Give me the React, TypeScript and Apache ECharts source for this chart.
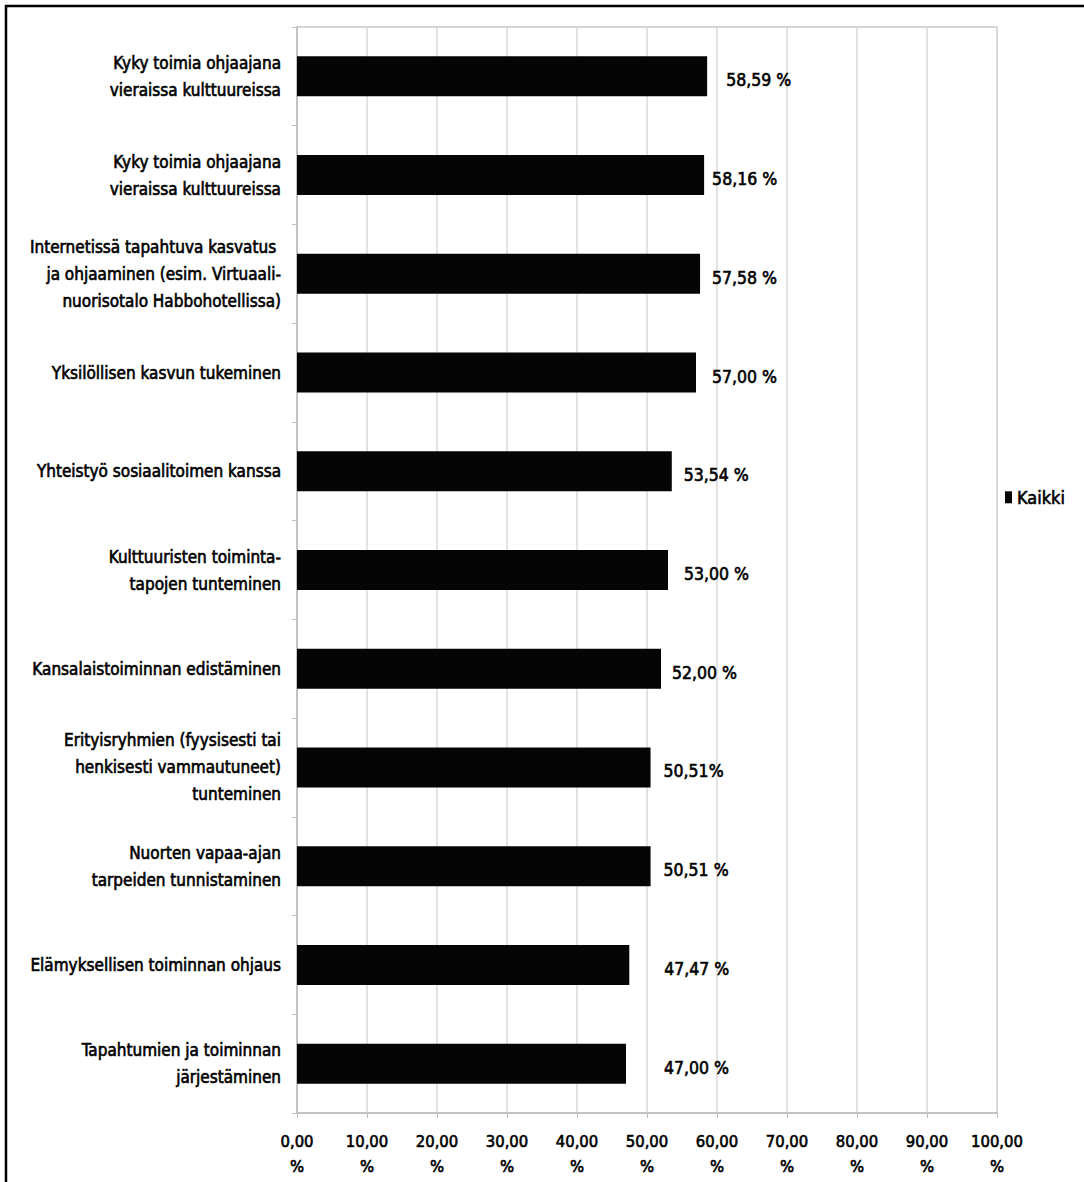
import React, { useEffect, useRef } from "react";
import * as echarts from "echarts";

const categories = [
  "Kyky toimia ohjaajana\nvieraissa kulttuureissa",
  "Kyky toimia ohjaajana\nvieraissa kulttuureissa",
  "Internetissä tapahtuva kasvatus \nja ohjaaminen (esim. Virtuaali-\nnuorisotalo Habbohotellissa)",
  "Yksilöllisen kasvun tukeminen",
  "Yhteistyö sosiaalitoimen kanssa",
  "Kulttuuristen toiminta-\ntapojen tunteminen",
  "Kansalaistoiminnan edistäminen",
  "Erityisryhmien (fyysisesti tai\nhenkisesti vammautuneet)\ntunteminen",
  "Nuorten vapaa-ajan\ntarpeiden tunnistaminen",
  "Elämyksellisen toiminnan ohjaus",
  "Tapahtumien ja toiminnan\njärjestäminen",
];

const values = [58.59, 58.16, 57.58, 57.0, 53.54, 53.0, 52.0, 50.51, 50.51, 47.47, 47.0];

const valueLabels = [
  "58,59 %",
  "58,16 %",
  "57,58 %",
  "57,00 %",
  "53,54 %",
  "53,00 %",
  "52,00 %",
  "50,51%",
  "50,51 %",
  "47,47 %",
  "47,00 %",
];

// gap (px) between bar end and its value label, as in the original
const labelGap = [19, 8, 12, 16, 12, 16, 11, 13, 13, 35, 38];

const xTickLabels = [
  "0,00\n%",
  "10,00\n%",
  "20,00\n%",
  "30,00\n%",
  "40,00\n%",
  "50,00\n%",
  "60,00\n%",
  "70,00\n%",
  "80,00\n%",
  "90,00\n%",
  "100,00\n%",
];

const seriesName = "Kaikki";

const FONT = '"Liberation Sans Narrow", "DejaVu Sans Condensed", "Roboto Condensed", Arial, sans-serif';

const heavy = { textBorderColor: "#000", textBorderWidth: 0.6 };

export default function App() {
  const ref = useRef<HTMLDivElement>(null);
  useEffect(() => {
    if (!ref.current) return;
    const chart = echarts.init(ref.current, undefined, { renderer: "svg" });
    chart.setOption({
      animation: false,
      backgroundColor: "#ffffff",
      textStyle: { fontFamily: FONT },
      grid: {
        left: 297,
        top: 27,
        width: 700,
        height: 1086,
        show: true,
        borderColor: "#c8c8c8",
        borderWidth: 1.5,
        backgroundColor: "transparent",
      },
      legend: {
        left: 1000,
        top: 483,
        orient: "vertical",
        icon: "rect",
        itemWidth: 7,
        itemHeight: 12,
        itemGap: 6,
        textStyle: { fontFamily: FONT, fontSize: 18, color: "#000", ...heavy },
        data: [seriesName],
      },
      xAxis: {
        type: "value",
        min: 0,
        max: 100,
        interval: 10,
        axisLine: { show: true, lineStyle: { color: "#bdbdbd", width: 1.5 } },
        axisTick: { show: true, length: 5, lineStyle: { color: "#bdbdbd" } },
        splitLine: { show: true, lineStyle: { color: "#dadada", width: 1.5 } },
        axisLabel: {
          margin: 16,
          fontFamily: FONT,
          fontSize: 16.5,
          color: "#000",
          lineHeight: 25,
          ...heavy,
          formatter: (v: number) => xTickLabels[Math.round(v / 10)] ?? "",
        },
      },
      yAxis: {
        type: "category",
        inverse: true,
        data: categories,
        axisLine: { show: true, lineStyle: { color: "#bdbdbd", width: 1.5 } },
        axisTick: { show: true, length: 5, alignWithLabel: false, lineStyle: { color: "#bdbdbd" } },
        splitLine: { show: false },
        axisLabel: {
          margin: 16,
          fontFamily: FONT,
          fontSize: 17,
          color: "#000",
          lineHeight: 27,
          align: "right",
          ...heavy,
        },
      },
      series: [
        {
          name: seriesName,
          type: "bar",
          barWidth: 40,
          itemStyle: { color: "#050505" },
          data: values.map((v, i) => ({
            value: v,
            label: {
              show: true,
              position: "right",
              distance: labelGap[i],
              formatter: () => valueLabels[i],
              fontFamily: FONT,
              fontSize: 17.5,
              color: "#000",
              offset: [0, 4],
              ...heavy,
            },
          })),
        },
      ],
      graphic: [
        {
          type: "rect",
          shape: { x: 6, y: 6, width: 1100, height: 1200 },
          style: { fill: "none", stroke: "#000", lineWidth: 2.5 },
          silent: true,
        },
      ],
    });
    return () => chart.dispose();
  }, []);
  return (
    <div
      ref={ref}
      style={{ position: "absolute", left: 0, top: 0, width: 1084, height: 1182 }}
    />
  );
}
